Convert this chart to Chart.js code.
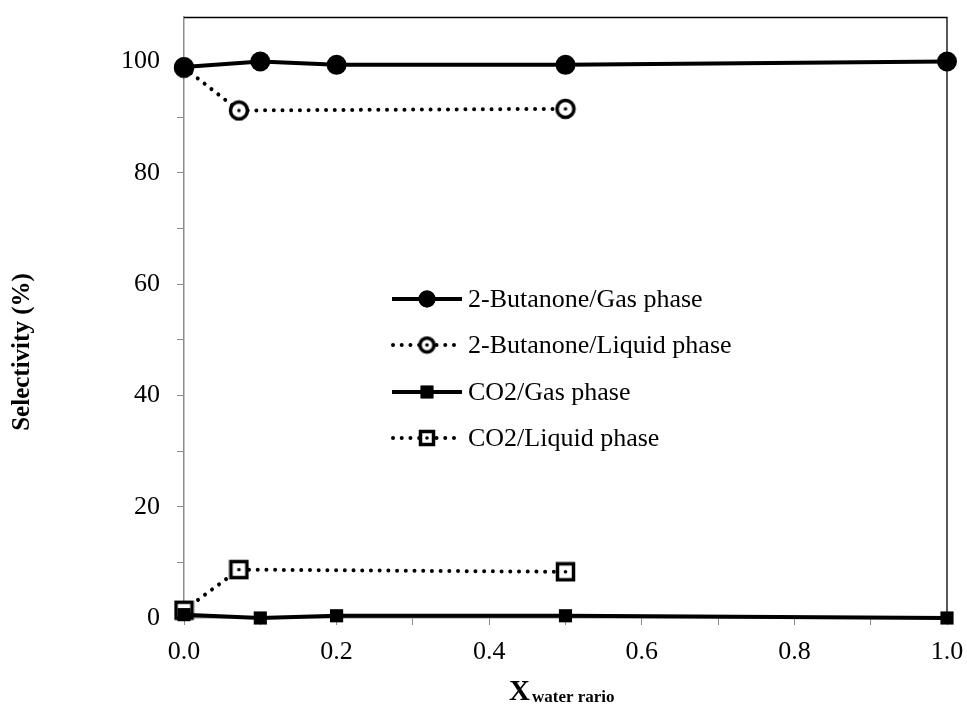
<!DOCTYPE html>
<html>
<head>
<meta charset="utf-8">
<script src="https://cdn.jsdelivr.net/npm/chart.js@4/dist/chart.umd.min.js"></script>
<style>
  html, body { margin: 0; padding: 0; background: #fff; }
  #wrap { width: 967px; height: 709px; }
</style>
</head>
<body>
<div id="wrap"><canvas id="selChart" width="967" height="709"></canvas></div>
<script>
// ------------------------------------------------------------
// Data
// ------------------------------------------------------------
const butGasX = [0, 0.1, 0.2, 0.5, 1.0];
const butGasY = [99.0, 100.0, 99.4, 99.4, 100.0];

const butLiqX = [0, 0.072, 0.5];
const butLiqY = [98.9, 91.2, 91.5];

const co2GasX = [0, 0.1, 0.2, 0.5, 1.0];
const co2GasY = [0.6, 0.0, 0.4, 0.4, 0.0];

const co2LiqX = [0, 0.072, 0.5];
const co2LiqY = [1.4, 8.7, 8.3];

const seriesNames = ['2-Butanone/Gas phase', '2-Butanone/Liquid phase', 'CO2/Gas phase', 'CO2/Liquid phase'];
const yTickLabels = [0, 20, 40, 60, 80, 100];
const xTickLabels = [0, 0.2, 0.4, 0.6, 0.8, 1.0];

const serif = '"Liberation Serif", "Times New Roman", serif';
const axisGrey = '#8c8c8c';
const dotDash = [0.01, 8.7];

// ------------------------------------------------------------
// Open markers with a centre dot (drawn once onto small canvases)
// ------------------------------------------------------------
function makeMarker(shape, size) {
  const c = document.createElement('canvas');
  c.width = size; c.height = size;
  const g = c.getContext('2d');
  const m = size / 2;
  g.fillStyle = '#fff';
  g.strokeStyle = '#000';
  g.lineWidth = 3.5;
  if (shape === 'circle') {
    g.beginPath(); g.arc(m, m, m - 2.5, 0, Math.PI * 2); g.fill(); g.stroke();
  } else {
    g.fillRect(2, 2, size - 4, size - 4);
    g.strokeRect(2.5, 2.5, size - 5, size - 5);
  }
  g.fillStyle = '#000';
  g.beginPath(); g.arc(m, m, 1.8, 0, Math.PI * 2); g.fill();
  return c;
}
const openCircle = makeMarker('circle', 22);
const openSquare = makeMarker('square', 21);
const openCircleSm = makeMarker('circle', 19);
const openSquareSm = makeMarker('square', 18);

const toPoints = (xs, ys) => xs.map((x, i) => ({ x, y: ys[i] }));

// ------------------------------------------------------------
// Legend inside the plot + axis titles
// ------------------------------------------------------------
const legendRows = [
  { y: 299, dash: [], marker: { pointStyle: 'circle', radius: 8.5 } },
  { y: 345, dash: dotDash, marker: openCircleSm },
  { y: 392, dash: [], marker: { pointStyle: 'rect', radius: 9 } },
  { y: 438, dash: dotDash, marker: openSquareSm }
];

const decorPlugin = {
  id: 'decor',
  afterDraw(chart) {
    const ctx = chart.ctx;
    const area = chart.chartArea;

    // top and right frame lines
    ctx.save();
    ctx.strokeStyle = '#000';
    ctx.lineWidth = 1.3;
    ctx.beginPath();
    ctx.moveTo(area.left, area.top + 0.5);
    ctx.lineTo(area.right, area.top + 0.5);
    ctx.lineTo(area.right, area.bottom);
    ctx.stroke();
    ctx.restore();

    // legend
    legendRows.forEach((row, i) => {
      ctx.save();
      ctx.strokeStyle = '#000';
      ctx.lineWidth = 4;
      ctx.lineCap = row.dash.length ? 'round' : 'butt';
      ctx.setLineDash(row.dash);
      ctx.beginPath();
      ctx.moveTo(row.dash.length ? 393 : 392, row.y);
      ctx.lineTo(462, row.y);
      ctx.stroke();
      ctx.setLineDash([]);
      if (row.marker instanceof HTMLCanvasElement) {
        ctx.drawImage(row.marker, 427 - row.marker.width / 2, row.y - row.marker.height / 2);
      } else {
        Chart.helpers.drawPoint(ctx, {
          pointStyle: row.marker.pointStyle, radius: row.marker.radius, borderWidth: 0, rotation: 0
        }, 427, row.y);
        ctx.fillStyle = '#000';
        ctx.fill();
      }
      ctx.fillStyle = '#000';
      ctx.font = '26px ' + serif;
      ctx.textBaseline = 'middle';
      ctx.textAlign = 'left';
      ctx.fillText(seriesNames[i], 468, row.y + 1);
      ctx.restore();
    });

    // y title
    ctx.save();
    ctx.fillStyle = '#000';
    ctx.font = 'bold 25px ' + serif;
    ctx.translate(23, 352);
    ctx.rotate(-Math.PI / 2);
    ctx.textAlign = 'center';
    ctx.textBaseline = 'middle';
    ctx.fillText('Selectivity (%)', 0, 0);
    ctx.restore();

    // x title with subscript
    ctx.save();
    ctx.fillStyle = '#000';
    ctx.textBaseline = 'alphabetic';
    ctx.textAlign = 'left';
    ctx.font = 'bold 29px ' + serif;
    ctx.fillText('X', 509, 700);
    ctx.font = 'bold 17px ' + serif;
    ctx.fillText('water rario', 532, 702);
    ctx.restore();
  }
};

const chart = new Chart(document.getElementById('selChart'), {
  type: 'scatter',
  data: {
    datasets: [
      {
        label: seriesNames[0],
        data: toPoints(butGasX, butGasY),
        showLine: true,
        borderColor: '#000',
        borderWidth: 4,
        pointStyle: 'circle',
        pointRadius: 10,
        pointBackgroundColor: '#000',
        pointBorderColor: '#000',
        pointBorderWidth: 0,
        clip: false
      },
      {
        label: seriesNames[1],
        data: toPoints(butLiqX, butLiqY),
        showLine: true,
        borderColor: '#000',
        borderWidth: 4,
        borderDash: dotDash,
        borderCapStyle: 'round',
        pointStyle: openCircle,
        pointRadius: 11,
        clip: false
      },
      {
        label: seriesNames[2],
        data: toPoints(co2GasX, co2GasY),
        showLine: true,
        borderColor: '#000',
        borderWidth: 4,
        pointStyle: 'rect',
        pointRadius: 9.3,
        pointBackgroundColor: '#000',
        pointBorderColor: '#000',
        pointBorderWidth: 0,
        clip: false
      },
      {
        label: seriesNames[3],
        data: toPoints(co2LiqX, co2LiqY),
        showLine: true,
        borderColor: '#000',
        borderWidth: 4,
        borderDash: dotDash,
        borderCapStyle: 'round',
        pointStyle: openSquare,
        pointRadius: 11,
        clip: false
      }
    ]
  },
  options: {
    responsive: false,
    animation: false,
    events: [],
    layout: { padding: { top: 17, right: 20, left: 0, bottom: 0 } },
    plugins: {
      legend: { display: false },
      tooltip: { enabled: false }
    },
    scales: {
      x: {
        type: 'linear',
        min: 0,
        max: 1,
        afterFit: (s) => {
          s.height = 91;
          s.paddingLeft = 0; s.paddingRight = 0;
        },
        afterBuildTicks: (s) => {
          s.ticks = [];
          for (let i = 0; i <= 10; i++) s.ticks.push({ value: i / 10 });
        },
        border: { color: axisGrey, width: 1.5 },
        grid: { drawOnChartArea: false, tickLength: 7, tickColor: axisGrey, tickWidth: 1 },
        ticks: {
          color: '#000',
          padding: 12,
          maxRotation: 0,
          autoSkip: false,
          font: { family: serif, size: 26 },
          callback: (v) => {
            const lbl = xTickLabels.find((t) => Math.abs(t - v) < 1e-6);
            return lbl === undefined ? '' : lbl.toFixed(1);
          }
        }
      },
      y: {
        min: 0,
        max: 108,
        afterFit: (s) => {
          s.width = 184;
          s.paddingTop = 0; s.paddingBottom = 0;
        },
        afterBuildTicks: (s) => {
          s.ticks = [];
          for (let v = 0; v <= 100; v += 10) s.ticks.push({ value: v });
        },
        border: { color: axisGrey, width: 1.5 },
        grid: { drawOnChartArea: false, tickLength: 7, tickColor: axisGrey, tickWidth: 1 },
        ticks: {
          color: '#000',
          padding: 17,
          autoSkip: false,
          font: { family: serif, size: 26 },
          callback: (v) => (yTickLabels.includes(v) ? String(v) : '')
        }
      }
    }
  },
  plugins: [decorPlugin]
});
</script>
</body>
</html>
